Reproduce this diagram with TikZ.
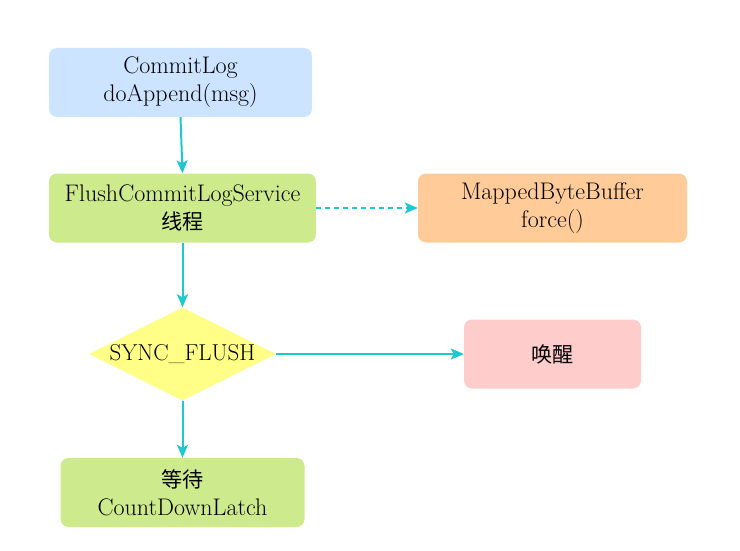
\documentclass[tikz,border=0pt]{standalone}
\usepackage{fontspec}
\newfontfamily\cjk{Noto Sans CJK SC}[Scale=0.88]
\usetikzlibrary{shapes.geometric,arrows.meta}
\definecolor{cblue}{HTML}{CCE4FF}
\definecolor{cgreen}{HTML}{CDEA8C}
\definecolor{corange}{HTML}{FFCC99}
\definecolor{cpink}{HTML}{FFCCCC}
\definecolor{cyellow}{HTML}{FFFF88}
\definecolor{carrow}{HTML}{1DC8CF}
\begin{document}
\begin{tikzpicture}[x=1pt,y=-1pt,
  box/.style={draw=none,rounded corners=8pt,align=center,inner sep=0pt,
    minimum height=69pt,font=\fontsize{24}{28}\selectfont},
  decision/.style={draw=none,diamond,inner sep=-6pt,shape aspect=2,
    minimum width=187pt,minimum height=93pt,fill=cyellow,font=\fontsize{23}{28}\selectfont},
  conn/.style={draw=carrow,line width=2pt,-{Stealth[length=13pt,width=11pt,inset=3pt]}},
  dconn/.style={conn,dash pattern=on 5pt off 4pt}
]
\useasboundingbox (0,0) rectangle (740,551);
\node[box,fill=cblue,minimum width=263pt] (b1) at (180.5,82.5) {CommitLog\\doAppend(msg)};
\node[box,fill=cgreen,minimum width=267pt] (b2) at (182.5,208) {FlushCommitLogService\\{\cjk 线程}};
\node[box,fill=corange,minimum width=269pt] (b3) at (552.5,208) {MappedByteBuffer\\force()};
\node[decision] (d) at (182.5,354) {SYNC\_FLUSH};
\node[box,fill=cpink,minimum width=177pt] (b4) at (552.5,354) {{\cjk 唤醒}};
\node[box,fill=cgreen,minimum width=244pt] (b5) at (182.5,492.5) {{\cjk 等待}\\CountDownLatch};
\draw[conn] (b1.south) -- (b2.north);
\draw[dconn] (b2.east) -- (b3.west);
\draw[conn] (b2.south) -- (d.north);
\draw[conn] (d.east) -- (b4.west);
\draw[conn] (d.south) -- (b5.north);
\end{tikzpicture}
\end{document}
